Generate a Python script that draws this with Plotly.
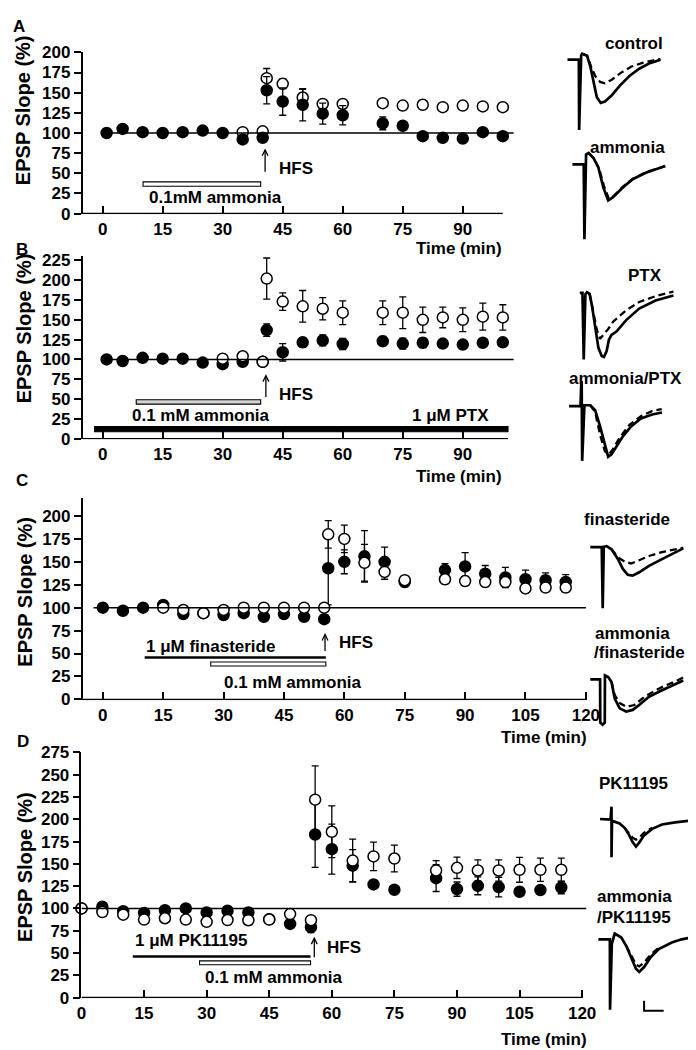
import plotly.graph_objects as go

W, H = 696, 1050
FONT = "Liberation Sans, Arial, sans-serif"

# ====================== DATA ======================
# ---- Panel A ----
a_time_ctrl = [35, 40, 41, 45, 50, 55, 60, 70, 75, 80, 85, 90, 95, 100]
a_slope_ctrl = [101, 102, 168, 161, 144, 136, 136, 137, 134, 135, 132, 134, 133, 132]
a_sem_ctrl = [2, 2, 12, 6, 10, 5, 4, 3, 3, 3, 3, 3, 3, 3]
a_time_amm = [1, 5, 10, 15, 20, 25, 30, 35, 40, 41, 45, 50, 55, 60, 70, 75, 80, 85, 90, 95, 100]
a_slope_amm = [100, 105, 101, 100, 101, 103, 100, 92, 94, 153, 139, 135, 124, 122, 112, 109, 96, 94, 93, 101, 96]
a_sem_amm = [2, 2, 2, 2, 2, 2, 2, 3, 3, 17, 17, 20, 13, 12, 8, 5, 3, 3, 3, 3, 3]
a_ammonia_window = [10.1, 39.5]

# ---- Panel B ----
b_time_ctrl = [30, 35, 40, 41, 45, 50, 55, 60, 70, 75, 80, 85, 90, 95, 100]
b_slope_ctrl = [101, 104, 97, 202, 173, 167, 164, 159, 159, 159, 150, 153, 150, 154, 153]
b_sem_ctrl = [2, 3, 2, 26, 11, 20, 14, 15, 15, 20, 16, 13, 15, 17, 16]
b_time_amm = [1, 5, 10, 15, 20, 25, 30, 35, 40, 41, 45, 50, 55, 60, 70, 75, 80, 85, 90, 95, 100]
b_slope_amm = [100, 98, 102, 101, 101, 96, 94, 97, 97, 137, 109, 121.6, 124, 119.5, 123, 120, 121, 120, 118.7, 121, 121.6]
b_sem_amm = [2, 2, 2, 2, 2, 2, 2, 2, 2, 8, 11, 6, 7, 7, 6, 7, 6, 4, 3, 4, 4]
b_ammonia_window = [8.4, 39.5]
b_ptx_window = [-2, 101.3]

# ---- Panel C ----
c_time_amm = [0, 5, 10, 15, 20, 25, 30, 35, 40, 45, 50, 55, 56, 60, 65, 70, 75, 85, 90, 95, 100, 105, 110, 115]
c_slope_amm = [100, 96.7, 100, 103, 93, 94, 92, 94, 90, 93, 90, 87.5, 143, 150, 156, 150, 128, 141, 145, 137, 133, 131, 130, 128]
c_sem_amm = [2, 2, 2, 2, 2, 2, 2, 2, 2, 2, 2, 3, 40, 13, 28, 16, 5, 7, 15, 9, 11, 10, 8, 8]
c_time_ctrl = [15, 20, 25, 30, 35, 40, 45, 50, 55, 56, 60, 65, 70, 75, 85, 90, 95, 100, 105, 110, 115]
c_slope_ctrl = [100, 97.5, 94, 97.5, 100, 100, 100, 100, 100, 180, 175, 149, 139, 130, 131, 129, 128, 128, 121, 122, 122]
c_sem_ctrl = [2, 2, 2, 2, 2, 2, 2, 2, 2, 15, 15, 20, 8, 5, 5, 5, 5, 4, 5, 4, 5]
c_finasteride_window = [10.4, 55.4]
c_ammonia_window = [26.8, 55.4]

# ---- Panel D ----
d_time = [0, 5, 10, 15, 20, 25, 30, 35, 40, 45, 50, 55, 56, 60, 65, 70, 75, 85, 90, 95, 100, 105, 110, 115]
d_slope_amm = [100, 102, 97, 95, 98, 100, 95.6, 97.4, 95.6, 88, 82.7, 79, 183, 166.5, 148, 127, 121, 134, 121.7, 125.4, 124, 118.7, 120.6, 123.5]
d_sem_amm = [2, 3, 3, 3, 3, 3, 3, 4, 4, 3, 4, 6, 37, 28, 18, 4, 3, 15, 8, 10, 11, 3, 3, 7]
d_slope_ctrl = [100, 96, 93, 87.5, 89, 87.5, 85, 87, 86.8, 87.5, 93.7, 86.8, 222, 186, 153.7, 158.4, 156, 142.6, 145.6, 142.6, 142.6, 143.4, 143.4, 143.4]
d_sem_ctrl = [2, 2, 3, 3, 3, 3, 3, 3, 5, 4, 3, 3, 38, 29, 24, 16, 15, 11, 12, 12, 12, 14, 13, 13]
d_pk_window = [12.3, 54.9]
d_ammonia_window = [28.3, 54.9]

# tick values
ab_xticks = [0, 15, 30, 45, 60, 75, 90]
cd_xticks = [0, 15, 30, 45, 60, 75, 90, 105, 120]
a_yticks = [0, 25, 50, 75, 100, 125, 150, 175, 200]
b_yticks = [0, 25, 50, 75, 100, 125, 150, 175, 200, 225]
c_yticks = [0, 25, 50, 75, 100, 125, 150, 175, 200]
d_yticks = [0, 25, 50, 75, 100, 125, 150, 175, 200, 225, 250, 275]

# ---- example EPSP waveforms (ms, mV); solid = after HFS, dashed = baseline ----
wA1_ms = [3.35, 9.15, 9.3, 10.35, 10.85, 13.35, 15.0, 16.65, 18.35, 20.35, 22.5, 25.85, 30.0, 35.0, 40.0, 45.0, 50.85]
wA1_mv = [-0.67, -0.67, -4.25, -0.45, -0.37, -0.47, -1.0, -1.83, -2.58, -2.87, -2.8, -2.5, -2.0, -1.5, -1.13, -0.87, -0.67]
wA1d_ms = [10.85, 13.35, 15.3, 17.5, 20.0, 22.5, 25.8, 30.8, 35.8, 41.7, 46.7, 50.8]
wA1d_mv = [-0.37, -0.47, -1.0, -1.5, -1.8, -1.87, -1.7, -1.33, -1.03, -0.83, -0.72, -0.63]

wA2_ms = [5.85, 11.65, 12.0, 12.85, 14.15, 16.65, 19.15, 21.65, 24.15, 26.65, 31.65, 36.65, 43.35, 48.35, 53.35]
wA2_mv = [-1.0, -1.0, -4.8, -0.5, -0.42, -0.67, -1.17, -2.17, -2.83, -2.67, -2.17, -1.75, -1.42, -1.25, -1.08]
wA2d_ms = [14.15, 16.65, 19.5, 22.0, 24.5, 27.0, 32.0, 37.0, 43.5, 48.5, 53.35]
wA2d_mv = [-0.42, -0.67, -1.2, -2.1, -2.75, -2.6, -2.1, -1.72, -1.4, -1.22, -1.08]

wB1_ms = [4.65, 6.0, 6.65, 7.5, 8.35, 9.65, 10.85, 12.5, 14.15, 15.85, 17.0, 18.35, 19.5, 20.85, 23.35, 28.35, 35.0, 43.35, 52.5]
wB1_mv = [-0.53, -0.53, -3.92, -0.6, -0.5, -0.58, -1.17, -2.33, -3.33, -3.75, -3.8, -3.5, -2.92, -2.67, -2.5, -1.92, -1.33, -0.92, -0.67]
wB1d_ms = [9.65, 11.65, 13.35, 15.0, 16.65, 19.15, 21.65, 28.35, 35.0, 43.35, 52.5]
wB1d_mv = [-0.58, -1.5, -2.42, -2.87, -2.67, -2.37, -2.0, -1.42, -1.0, -0.7, -0.47]

wB2_ms = [4.15, 10.0, 10.4, 10.6, 10.85, 12.0, 15.0, 17.5, 20.0, 22.5, 24.15, 25.85, 28.35, 31.65, 35.85, 40.85, 46.65, 51.65]
wB2_mv = [-1.55, -1.55, -0.33, -0.33, -4.33, -1.5, -1.5, -1.75, -2.58, -3.58, -4.12, -4.0, -3.58, -3.08, -2.58, -2.17, -1.97, -1.87]
wB2d_ms = [15.0, 17.5, 20.0, 22.5, 24.5, 26.5, 30.0, 35.0, 41.0, 46.5, 51.5]
wB2d_mv = [-1.5, -1.85, -3.0, -3.85, -4.0, -3.75, -3.15, -2.5, -2.05, -1.8, -1.7]

wC1_ms = [2.5, 8.35, 8.85, 9.4, 10.85, 13.35, 16.65, 19.15, 21.65, 24.15, 27.5, 32.5, 39.15, 45.85, 50.0]
wC1_mv = [-0.72, -0.72, -3.83, -0.7, -0.67, -0.83, -1.33, -1.83, -2.13, -2.17, -2.0, -1.67, -1.33, -1.0, -0.78]
wC1d_ms = [13.35, 16.65, 20.0, 23.35, 26.65, 32.5, 39.15, 45.85, 50.0]
wC1d_mv = [-0.83, -1.25, -1.45, -1.55, -1.42, -1.17, -0.97, -0.83, -0.75]

wC2_ms = [2.5, 7.5, 7.6, 8.8, 9.9, 10.0, 11.65, 13.35, 15.0, 17.5, 20.85, 24.15, 27.5, 32.5, 39.15, 45.85, 50.0]
wC2_mv = [-0.7, -0.7, -2.9, -3.0, -2.9, -0.5, -0.58, -0.83, -1.67, -2.17, -2.33, -2.25, -2.0, -1.58, -1.25, -0.95, -0.75]
wC2d_ms = [13.35, 15.0, 17.5, 21.0, 25.0, 30.0, 35.0, 40.0, 46.0, 50.0]
wC2d_mv = [-0.83, -1.5, -1.9, -2.1, -2.0, -1.6, -1.3, -1.05, -0.8, -0.6]

wD1_ms = [2.5, 7.85, 8.35, 8.35, 8.6, 9.5, 12.5, 15.0, 17.15, 19.15, 20.85, 22.5, 25.0, 29.15, 34.15, 40.85, 49.15]
wD1_mv = [-0.8, -0.83, -0.17, -2.75, -0.9, -0.92, -1.03, -1.25, -1.58, -1.97, -2.2, -2.0, -1.63, -1.3, -1.08, -0.97, -0.88]
wD1d_ms = [15.0, 17.15, 19.15, 20.85, 22.5, 25.0, 29.15]
wD1d_mv = [-1.25, -1.5, -1.75, -1.85, -1.75, -1.5, -1.25]

wD2_ms = [1.65, 7.5, 7.6, 8.5, 10.0, 13.35, 15.85, 18.35, 20.85, 22.5, 25.0, 28.35, 32.5, 39.15, 44.15, 49.15]
wD2_mv = [-0.67, -0.67, -4.25, -0.9, -0.38, -0.58, -1.0, -1.58, -2.17, -2.33, -2.08, -1.58, -1.17, -0.83, -0.67, -0.58]
wD2d_ms = [15.85, 18.35, 20.85, 22.5, 25.0, 28.35, 32.5]
wD2d_mv = [-1.0, -1.5, -1.95, -2.05, -1.85, -1.45, -1.1]

scale_bar_ms = 10
scale_bar_mv = 0.5

# ====================== LAYOUT CONSTANTS (pixels) ======================
PANELS = [
    dict(key="A", sfx="", x0=91.6, xs=4.09, xr=(-5, 104), xend=100, y0=200, ys=0.82, yr=(-0.8, 200),
         xt=ab_xticks, yt=a_yticks, base=(0, 102.7)),
    dict(key="B", sfx="2", x0=91.6, xs=4.09, xr=(-5, 104), xend=101.3, y0=429, ys=0.806, yr=(-0.8, 230),
         xt=ab_xticks, yt=b_yticks, base=(0, 102.7)),
    dict(key="C", sfx="3", x0=91.8, xs=4.114, xr=(-5, 121), xend=120, y0=694.3, ys=0.933, yr=(-0.8, 220),
         xt=cd_xticks, yt=c_yticks, base=(-2.3, 120)),
    dict(key="D", sfx="4", x0=70, xs=4.264, xr=(0, 121.5), xend=120, y0=997.7, ys=0.907, yr=(-0.8, 275),
         xt=cd_xticks, yt=d_yticks, base=(0, 121)),
]

INSETS = [  # suffix, left, top, width, height (px)
    ("5", 560, 30, 110, 90),
    ("6", 560, 130, 110, 100),
    ("7", 570, 270, 110, 90),
    ("8", 560, 365, 110, 95),
    ("9", 585, 525, 105, 85),
    ("10", 585, 660, 105, 65),
    ("11", 595, 800, 100, 60),
    ("12", 595, 925, 100, 90),
]
PX_PER_MS = 2.0
PX_PER_MV = 20.0
TXT = 17

fig = go.Figure()
shapes = []
annotations = []
layout_axes = {}


def px_x(px):
    return px / W


def px_y(py):
    return 1 - py / H


def tickfont(size=TXT):
    return dict(family=FONT, size=size, color="black", weight="bold")


# ---- main panels: axes ----
for p in PANELS:
    s = p["sfx"]
    xd = [px_x(p["x0"] + p["xr"][0] * p["xs"]), px_x(p["x0"] + p["xr"][1] * p["xs"])]
    yd = [px_y(p["y0"] - p["yr"][0] * p["ys"]), px_y(p["y0"] - p["yr"][1] * p["ys"])]
    layout_axes["xaxis" + s] = dict(
        domain=xd, range=list(p["xr"]), anchor="y" + s, showline=False, showgrid=False, zeroline=False,
        ticks="inside", ticklen=8, tickwidth=1.5, tickcolor="black", tickvals=p["xt"],
        tickfont=tickfont(), ticklabelstandoff=3, fixedrange=True)
    layout_axes["yaxis" + s] = dict(
        domain=yd, range=list(p["yr"]), anchor="x" + s, showline=True, linewidth=1.5, linecolor="black",
        showgrid=False, zeroline=False, ticks="outside", ticklen=7, tickwidth=1.5, tickcolor="black",
        tickvals=p["yt"], tickfont=tickfont(), fixedrange=True)
    shapes.append(dict(type="line", xref="x" + s, yref="y" + s, x0=p["xr"][0], x1=p["xend"], y0=0, y1=0,
                       line=dict(color="black", width=1.5)))
    shapes.append(dict(type="line", xref="x" + s, yref="y" + s, x0=p["base"][0], x1=p["base"][1], y0=100, y1=100,
                       line=dict(color="black", width=1.5)))


def add_series(t, y, e, filled, s):
    fig.add_trace(go.Scatter(
        x=t, y=y, mode="markers", xaxis="x" + s, yaxis="y" + s,
        error_y=dict(type="data", array=e, visible=True, color="black", thickness=1.3, width=3.5),
        marker=dict(symbol="circle", size=11, color="black" if filled else "white",
                    line=dict(color="black", width=1.5)),
        cliponaxis=False, showlegend=False, hoverinfo="skip"))


add_series(a_time_ctrl, a_slope_ctrl, a_sem_ctrl, False, "")
add_series(a_time_amm, a_slope_amm, a_sem_amm, True, "")
add_series(b_time_amm, b_slope_amm, b_sem_amm, True, "2")
add_series(b_time_ctrl, b_slope_ctrl, b_sem_ctrl, False, "2")
add_series(c_time_amm, c_slope_amm, c_sem_amm, True, "3")
add_series(c_time_ctrl, c_slope_ctrl, c_sem_ctrl, False, "3")
add_series(d_time, d_slope_amm, d_sem_amm, True, "4")
add_series(d_time, d_slope_ctrl, d_sem_ctrl, False, "4")


def bar(p, window, yc, half_px, fill):
    s = p["sfx"]
    shapes.append(dict(type="rect", xref="x" + s, yref="y" + s, x0=window[0], x1=window[1],
                       y0=yc - half_px / p["ys"], y1=yc + half_px / p["ys"], fillcolor=fill,
                       line=dict(color="black", width=1.1)))


def solid_line(p, window, yc, width):
    s = p["sfx"]
    shapes.append(dict(type="line", xref="x" + s, yref="y" + s, x0=window[0], x1=window[1], y0=yc, y1=yc,
                       line=dict(color="black", width=width)))


def arrow(p, x, ytail, yhead):
    s = p["sfx"]
    shapes.append(dict(type="line", xref="x" + s, yref="y" + s, x0=x, x1=x, y0=ytail, y1=yhead,
                       line=dict(color="black", width=1.3)))
    dx = 3.0 / p["xs"]
    dy = 6.0 / p["ys"]
    shapes.append(dict(type="path", xref="x" + s, yref="y" + s,
                       path=f"M {x - dx},{yhead - dy} L {x},{yhead} L {x + dx},{yhead - dy}",
                       line=dict(color="black", width=1.3)))


def dtext(p, x, y, text, size=TXT):
    s = p["sfx"]
    annotations.append(dict(xref="x" + s, yref="y" + s, x=x, y=y, text="<b>" + text + "</b>", showarrow=False,
                            xanchor="center", yanchor="middle", font=dict(family=FONT, size=size, color="black")))


def ptext(px, py, text, size=TXT, xanchor="center", angle=0):
    annotations.append(dict(xref="paper", yref="paper", x=px_x(px), y=px_y(py), text="<b>" + text + "</b>",
                            showarrow=False, xanchor=xanchor, yanchor="middle", textangle=angle,
                            font=dict(family=FONT, size=size, color="black")))


pA, pB, pC, pD = PANELS

# Panel A decorations
bar(pA, a_ammonia_window, 36.6, 2.2, "white")
dtext(pA, 28.2, 20.3, "0.1mM ammonia")
arrow(pA, 40.6, 52, 79)
dtext(pA, 48.2, 55.5, "HFS")

# Panel B decorations
bar(pB, b_ammonia_window, 46.3, 2.2, "#d4d4d4")
dtext(pB, 24.5, 29.8, "0.1 mM ammonia")
bar(pB, b_ptx_window, 12, 2.6, "black")
dtext(pB, 87.0, 29.8, "1 μM PTX")
arrow(pB, 40.8, 52.5, 79.4)
dtext(pB, 48.2, 56.0, "HFS")

# Panel C decorations
solid_line(pC, c_finasteride_window, 45.7, 2.5)
bar(pC, c_ammonia_window, 38.6, 2.0, "white")
dtext(pC, 26.8, 58.2, "1 μM finasteride")
dtext(pC, 47.2, 18.2, "0.1 mM ammonia")
arrow(pC, 55.2, 52.8, 70.7)
dtext(pC, 62.8, 61.7, "HFS")

# Panel D decorations
solid_line(pD, d_pk_window, 46, 2.5)
bar(pD, d_ammonia_window, 39, 2.0, "white")
dtext(pD, 26.2, 63.6, "1 μM PK11195")
dtext(pD, 46.1, 22.5, "0.1 mM ammonia")
arrow(pD, 55.8, 45.2, 66.6)
dtext(pD, 62.9, 56.2, "HFS")

# Panel letters, axis titles
for letter, (lx, ly) in zip("ABCD", [(6, 10), (9, 237), (9, 472), (10, 737)]):
    ptext(lx, ly, letter, size=17)
for yc, xc in [(95, 11), (317, 11), (585, 12), (865, 12)]:
    ptext(xc, yc, "EPSP Slope (%)", size=20, angle=-90)
for rx, ry in [(502, 236), (502, 468), (589, 733), (589, 1040)]:
    ptext(rx, ry, "Time (min)", xanchor="right")

# ---- insets with example traces ----
for s, left, top, w, h in INSETS:
    layout_axes["xaxis" + s] = dict(domain=[px_x(left), px_x(left + w)], range=[0, w / PX_PER_MS],
                                    visible=False, anchor="y" + s, fixedrange=True)
    layout_axes["yaxis" + s] = dict(domain=[px_y(top + h), px_y(top)], range=[-h / PX_PER_MV, 0],
                                    visible=False, anchor="x" + s, fixedrange=True)

waves = [
    ("5", wA1_ms, wA1_mv, wA1d_ms, wA1d_mv),
    ("6", wA2_ms, wA2_mv, wA2d_ms, wA2d_mv),
    ("7", wB1_ms, wB1_mv, wB1d_ms, wB1d_mv),
    ("8", wB2_ms, wB2_mv, wB2d_ms, wB2d_mv),
    ("9", wC1_ms, wC1_mv, wC1d_ms, wC1d_mv),
    ("10", wC2_ms, wC2_mv, wC2d_ms, wC2d_mv),
    ("11", wD1_ms, wD1_mv, wD1d_ms, wD1d_mv),
    ("12", wD2_ms, wD2_mv, wD2d_ms, wD2d_mv),
]
for s, xs_, ys_, xd_, yd_ in waves:
    fig.add_trace(go.Scatter(x=xd_, y=yd_, mode="lines", xaxis="x" + s, yaxis="y" + s,
                             line=dict(color="black", width=2.3, dash="7px,4px"),
                             cliponaxis=False, showlegend=False, hoverinfo="skip"))
    fig.add_trace(go.Scatter(x=xs_, y=ys_, mode="lines", xaxis="x" + s, yaxis="y" + s,
                             line=dict(color="black", width=2.7),
                             cliponaxis=False, showlegend=False, hoverinfo="skip"))

# scale bar
sb_t0, sb_v0 = 25, -4.3
fig.add_trace(go.Scatter(x=[sb_t0, sb_t0, sb_t0 + scale_bar_ms], y=[sb_v0 + scale_bar_mv, sb_v0, sb_v0],
                         mode="lines", xaxis="x12", yaxis="y12", line=dict(color="black", width=2),
                         cliponaxis=False, showlegend=False, hoverinfo="skip"))

# inset labels
ptext(666, 27, "control", xanchor="right")
ptext(628, 133, "ammonia")
ptext(665, 263, "PTX", xanchor="right")
ptext(626, 368, "ammonia/PTX")
ptext(628, 511, "finasteride")
ptext(593, 627, "ammonia", xanchor="left")
ptext(592, 647, "/finasteride", xanchor="left")
ptext(597, 780, "PK11195", xanchor="left")
ptext(595, 895, "ammonia", xanchor="left")
ptext(595, 916, "/PK11195", xanchor="left")

fig.update_layout(
    width=W, height=H, autosize=False,
    margin=dict(l=0, r=0, t=0, b=0, pad=0),
    paper_bgcolor="white", plot_bgcolor="rgba(0,0,0,0)",
    showlegend=False, shapes=shapes, annotations=annotations,
    font=dict(family=FONT, color="black"),
    **layout_axes,
)

fig.write_html("out.html", config={"displayModeBar": False})
